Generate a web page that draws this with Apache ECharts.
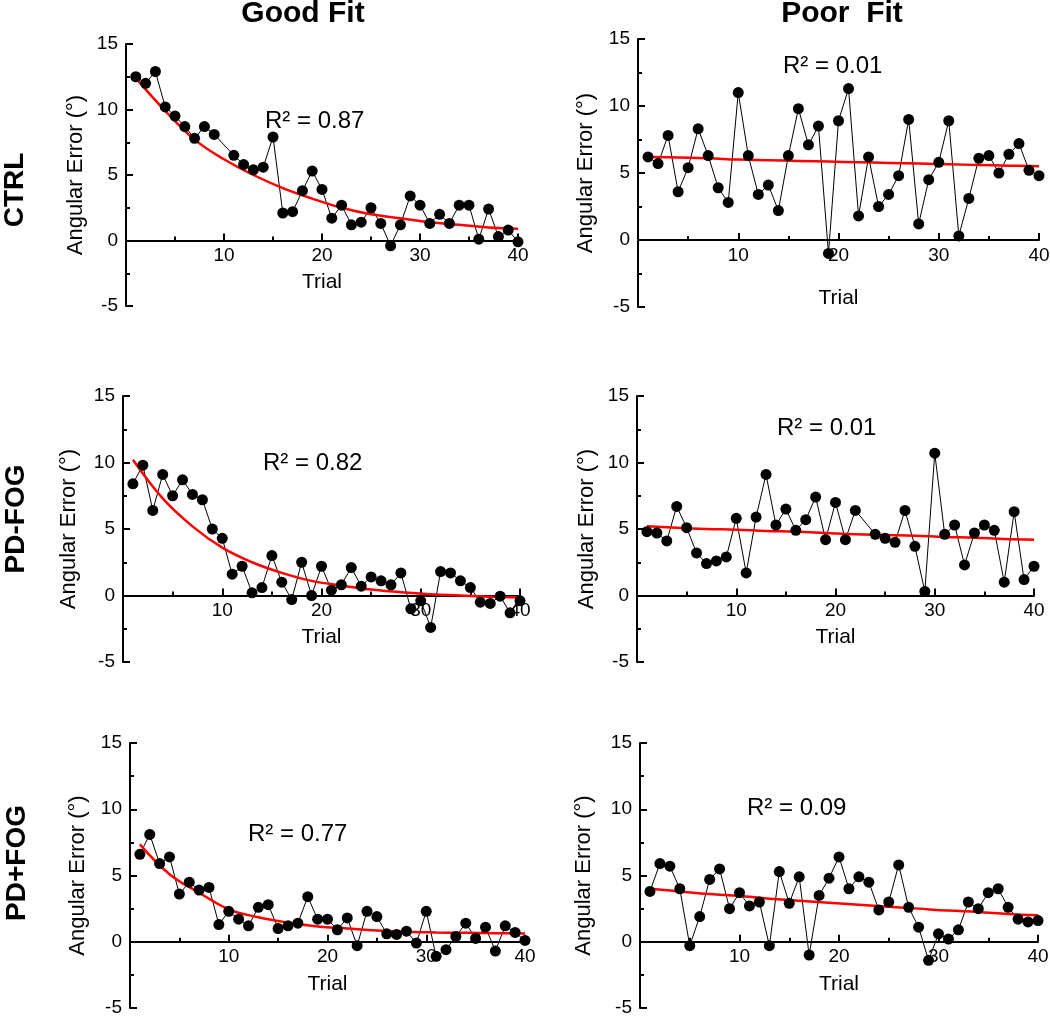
<!DOCTYPE html>
<html>
<head>
<meta charset="utf-8">
<script src="https://cdn.jsdelivr.net/npm/echarts@6/dist/echarts.min.js"></script>
<style>
html,body{margin:0;padding:0;background:#fff}
#main{width:1050px;height:1016px}
</style>
</head>
<body>
<div id="main"></div>
<script>
var trials = [1,2,3,4,5,6,7,8,9,10,11,12,13,14,15,16,17,18,19,20,
              21,22,23,24,25,26,27,28,29,30,31,32,33,34,35,36,37,38,39,40];

// angular error per trial (null = trial not plotted)
var ctrlGood = [12.5,12.0,12.9,10.2,9.5,8.7,7.8,8.7,8.1,null,6.5,5.8,5.4,5.6,7.9,2.1,2.2,3.8,5.3,3.9,
                1.7,2.7,1.2,1.4,2.5,1.3,-0.4,1.2,3.4,2.7,1.3,2.0,1.3,2.7,2.7,0.1,2.4,0.3,0.8,-0.1];
var ctrlPoor = [6.2,5.7,7.8,3.6,5.4,8.3,6.3,3.9,2.8,11.0,6.3,3.4,4.1,2.2,6.3,9.8,7.1,8.5,-1.0,8.9,
                11.3,1.8,6.2,2.5,3.4,4.8,9.0,1.2,4.5,5.8,8.9,0.3,3.1,6.1,6.3,5.0,6.4,7.2,5.2,4.8];
var pdNoFogGood = [8.4,9.8,6.4,9.1,7.5,8.7,7.6,7.2,5.0,4.3,1.6,2.2,0.2,0.6,3.0,1.0,-0.3,2.5,0.0,2.2,
                   0.4,0.8,2.1,0.7,1.4,1.1,0.8,1.7,-1.0,-0.4,-2.4,1.8,1.7,1.1,0.6,-0.5,-0.6,-0.05,-1.3,-0.4];
var pdNoFogPoor = [4.8,4.7,4.1,6.7,5.1,3.2,2.4,2.6,2.9,5.8,1.7,5.9,9.1,5.3,6.5,4.9,5.7,7.4,4.2,7.0,
                   4.2,6.4,null,4.6,4.3,4.0,6.4,3.7,0.3,10.7,4.6,5.3,2.3,4.7,5.3,4.9,1.0,6.3,1.2,2.2];
var pdFogGood = [6.6,8.1,5.9,6.4,3.6,4.5,3.9,4.1,1.3,2.3,1.7,1.2,2.6,2.8,1.0,1.2,1.4,3.4,1.7,1.7,
                 0.9,1.8,-0.3,2.3,1.9,0.6,0.55,0.8,-0.1,2.3,-1.1,-0.6,0.4,1.4,0.25,1.1,-0.7,1.2,0.7,0.1];
var pdFogPoor = [3.8,5.9,5.7,4.0,-0.3,1.9,4.7,5.5,2.5,3.7,2.7,3.0,-0.3,5.3,2.9,4.9,-1.0,3.5,4.8,6.4,
                 4.0,4.9,4.5,2.4,3.0,5.8,2.6,1.1,-1.4,0.6,0.2,0.9,3.0,2.5,3.7,4.0,2.6,1.7,1.5,1.6];

// fitted curves, every 3 trials
var fitX = [1,4,7,10,13,16,19,22,25,28,31,34,37,40];
var ctrlGoodFitY    = [12.4,9.9,7.7,6.2,5.0,4.0,3.2,2.5,2.0,1.7,1.4,1.2,1.0,0.9];
var ctrlPoorFitY    = [6.2,6.15,6.1,6.0,5.95,5.9,5.85,5.8,5.75,5.7,5.65,5.6,5.55,5.5];
var pdNoFogGoodFitY = [10.2,7.3,5.2,3.6,2.5,1.7,1.1,0.75,0.45,0.25,0.1,0.0,-0.1,-0.15];
var pdNoFogPoorFitY = [5.2,5.1,5.0,4.95,4.85,4.8,4.7,4.6,4.55,4.5,4.4,4.35,4.25,4.2];
var pdFogGoodFitY   = [7.35,5.1,3.7,2.45,1.85,1.45,1.15,1.0,0.85,0.75,0.7,0.67,0.64,0.62];
var pdFogPoorFitY   = [4.0,3.8,3.6,3.45,3.25,3.1,2.95,2.8,2.65,2.5,2.35,2.25,2.1,2.0];

var r2Labels = ['R² = 0.87','R² = 0.01','R² = 0.82','R² = 0.01','R² = 0.77','R² = 0.09'];
var colTitles = ['Good Fit','Poor  Fit'];
var rowTitles = ['CTRL','PD-FOG','PD+FOG'];
var yTicks = [-5,0,5,10,15];

var FONT = '"Liberation Sans", Arial, Helvetica, sans-serif';

// layout of the six panels
var panels = [
  {grid:[126,44,392,262],  y:ctrlGood,    fy:ctrlGoodFitY,    r2:[265,121], yName:76,  xGap:31},
  {grid:[638,39,401,268],  y:ctrlPoor,    fy:ctrlPoorFitY,    r2:[783,66],  yName:586, xGap:48},
  {grid:[123,396,397,266], y:pdNoFogGood, fy:pdNoFogGoodFitY, r2:[263,463], yName:69,  xGap:31},
  {grid:[637,396,397,266], y:pdNoFogPoor, fy:pdNoFogPoorFitY, r2:[777,428], yName:587, xGap:31},
  {grid:[130,743,395,265], y:pdFogGood,   fy:pdFogGoodFitY,   r2:[248,834], yName:78,  xGap:32},
  {grid:[640,743,398,265], y:pdFogPoor,   fy:pdFogPoorFitY,   r2:[747,808], yName:584, xGap:32}
];

function zip(xs, ys){
  var out = [];
  for(var i=0;i<xs.length;i++){
    if(ys[i]!==null) out.push([xs[i], ys[i]]);
  }
  return out;
}

var grids=[], xAxes=[], yAxes=[], series=[], graphics=[];
var axisStyle = {color:'#000', width:2};

panels.forEach(function(p, i){
  grids.push({left:p.grid[0], top:p.grid[1], width:p.grid[2], height:p.grid[3],
              containLabel:false, outerBoundsMode:'none'});
  // x axis sits on y = 0, a quarter of the way up the grid
  xAxes.push({
    type:'value', gridIndex:i, min:0, max:40, interval:10,
    offset:-p.grid[3]/4,
    name:'Trial', nameLocation:'middle', nameGap:p.xGap,
    nameTextStyle:{fontSize:21, color:'#000', fontFamily:FONT},
    axisLine:{show:true, onZero:false, lineStyle:axisStyle},
    axisTick:{show:true, inside:true, length:7, lineStyle:axisStyle},
    minorTick:{show:true, splitNumber:2, length:4, lineStyle:axisStyle},
    axisLabel:{showMinLabel:false, fontSize:19, color:'#000', fontFamily:FONT, margin:6},
    splitLine:{show:false}
  });
  yAxes.push({
    type:'value', gridIndex:i, min:yTicks[0], max:yTicks[yTicks.length-1], interval:5,
    axisLine:{show:true, onZero:false, lineStyle:axisStyle},
    axisTick:{show:true, inside:true, length:7, lineStyle:axisStyle},
    minorTick:{show:true, splitNumber:2, length:4, lineStyle:axisStyle},
    axisLabel:{fontSize:19, color:'#000', fontFamily:FONT, margin:8},
    splitLine:{show:false}
  });
  var pts = zip(trials, p.y);
  series.push({type:'line', xAxisIndex:i, yAxisIndex:i, data:pts, symbol:'none',
               lineStyle:{color:'#000', width:1}, z:2, silent:true});
  series.push({type:'line', xAxisIndex:i, yAxisIndex:i, data:zip(fitX, p.fy), symbol:'none',
               smooth:0.4, lineStyle:{color:'#ff0000', width:2.5}, z:3, silent:true});
  series.push({type:'scatter', xAxisIndex:i, yAxisIndex:i, data:pts, symbolSize:11,
               itemStyle:{color:'#000', opacity:1}, z:4, silent:true});

  graphics.push({type:'text', x:p.r2[0], y:p.r2[1],
    style:{text:r2Labels[i], font:'24px '+FONT, fill:'#000', textAlign:'left', textVerticalAlign:'middle'}});
  graphics.push({type:'text', x:p.yName, y:p.grid[1]+p.grid[3]/2, rotation:Math.PI/2,
    style:{text:'Angular Error (°)', font:'22px '+FONT, fill:'#000', textAlign:'center', textVerticalAlign:'middle'}});
});

// column and row headings
graphics.push({type:'text', x:303, y:14, style:{text:colTitles[0], font:'bold 30px '+FONT, fill:'#000', textAlign:'center', textVerticalAlign:'middle'}});
graphics.push({type:'text', x:842, y:14, style:{text:colTitles[1], font:'bold 30px '+FONT, fill:'#000', textAlign:'center', textVerticalAlign:'middle'}});
var rowY = [190, 519, 863], rowX = [15, 16, 17];
rowTitles.forEach(function(t, i){
  graphics.push({type:'text', x:rowX[i], y:rowY[i], rotation:Math.PI/2,
    style:{text:t, font:'bold 28px '+FONT, fill:'#000', textAlign:'center', textVerticalAlign:'middle'}});
});

var chart = echarts.init(document.getElementById('main'));
chart.setOption({
  animation:false,
  backgroundColor:'#fff',
  grid:grids,
  xAxis:xAxes,
  yAxis:yAxes,
  series:series,
  graphic:graphics
});
</script>
</body>
</html>
